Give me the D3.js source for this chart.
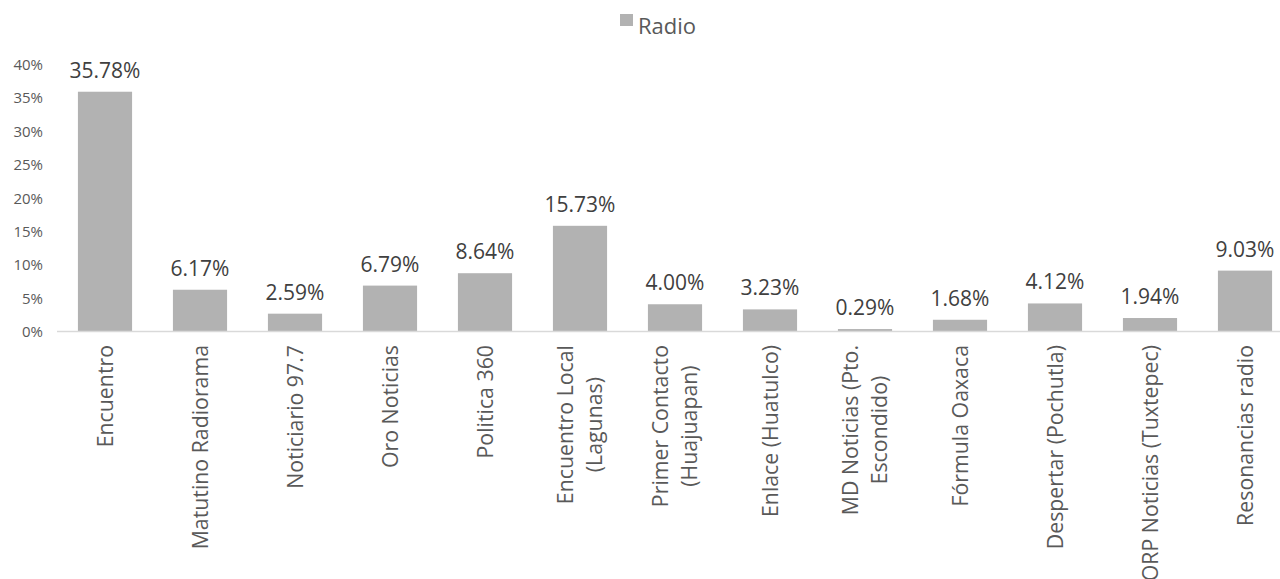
<!DOCTYPE html>
<html>
<head>
<meta charset="utf-8">
<script src="https://cdn.jsdelivr.net/npm/d3@7"></script>
<style>
html,body{margin:0;padding:0;background:#fff;overflow:hidden;}
svg{display:block;font-family:"Open Sans",sans-serif;}
</style>
</head>
<body>
<svg id="chart" width="1280" height="579"></svg>
<script>
const categories = [
  ["Encuentro"],
  ["Matutino Radiorama"],
  ["Noticiario 97.7"],
  ["Oro Noticias"],
  ["Politica 360"],
  ["Encuentro Local", "(Lagunas)"],
  ["Primer Contacto", "(Huajuapan)"],
  ["Enlace (Huatulco)"],
  ["MD Noticias (Pto.", "Escondido)"],
  ["Fórmula Oaxaca"],
  ["Despertar (Pochutla)"],
  ["ORP Noticias (Tuxtepec)"],
  ["Resonancias radio"]
];
const radioValues = [35.78, 6.17, 2.59, 6.79, 8.64, 15.73, 4.00, 3.23, 0.29, 1.68, 4.12, 1.94, 9.03];
const yTickValues = [0, 5, 10, 15, 20, 25, 30, 35, 40];
const seriesName = "Radio";

const svg = d3.select("#chart");
const keys = categories.map((c, i) => i);

const x = d3.scaleBand()
  .domain(keys)
  .range([57.5, 1292.5])
  .paddingInner(0.43)
  .paddingOuter(0.215);

const y = d3.scaleLinear()
  .domain([0, 40])
  .range([331, 63.5]);

// y tick labels
svg.append("g")
  .selectAll("text")
  .data(yTickValues)
  .join("text")
  .attr("x", 43)
  .attr("y", d => y(d))
  .attr("dy", "0.42em")
  .attr("text-anchor", "end")
  .attr("font-size", 15)
  .attr("fill", "#595959")
  .text(d => d + "%");

// bars
svg.append("g")
  .selectAll("rect")
  .data(radioValues)
  .join("rect")
  .attr("x", (d, i) => x(i))
  .attr("width", x.bandwidth())
  .attr("y", d => y(d))
  .attr("height", d => y(0) - y(d))
  .attr("fill", "#b2b2b2");

// axis line
svg.append("line")
  .attr("x1", 57).attr("x2", 1292)
  .attr("y1", y(0) + 0.5).attr("y2", y(0) + 0.5)
  .attr("stroke", "#d9d9d9")
  .attr("stroke-width", 1.5);

// value labels
svg.append("g")
  .selectAll("text")
  .data(radioValues)
  .join("text")
  .attr("x", (d, i) => x(i) + x.bandwidth() / 2)
  .attr("y", d => y(d) - 14)
  .attr("text-anchor", "middle")
  .attr("font-size", 21)
  .attr("fill", "#404040")
  .text(d => d.toFixed(2) + "%");

// category labels (rotated)
const lineH = 29;
const catG = svg.append("g")
  .selectAll("g")
  .data(categories)
  .join("g")
  .attr("transform", (d, i) => `translate(${x(i) + x.bandwidth() / 2},345) rotate(-90)`);

catG.each(function(lines) {
  const g = d3.select(this);
  const t = g.append("text")
    .attr("font-size", 21.3)
    .attr("fill", "#595959")
    .attr("text-anchor", "middle");
  const n = lines.length;
  const spans = lines.map((ln, j) =>
    t.append("tspan")
      .attr("y", (j - (n - 1) / 2) * lineH)
      .attr("dy", "0.36em")
      .text(ln)
  );
  const maxLen = d3.max(spans, s => s.node().getComputedTextLength());
  spans.forEach(s => s.attr("x", -maxLen / 2));
});

// legend
const legend = svg.append("g");
legend.append("rect")
  .attr("x", 620).attr("y", 14)
  .attr("width", 13).attr("height", 12)
  .attr("fill", "#b2b2b2");
legend.append("text")
  .attr("x", 638).attr("y", 34)
  .attr("font-size", 22)
  .attr("fill", "#595959")
  .text(seriesName);
</script>
</body>
</html>
